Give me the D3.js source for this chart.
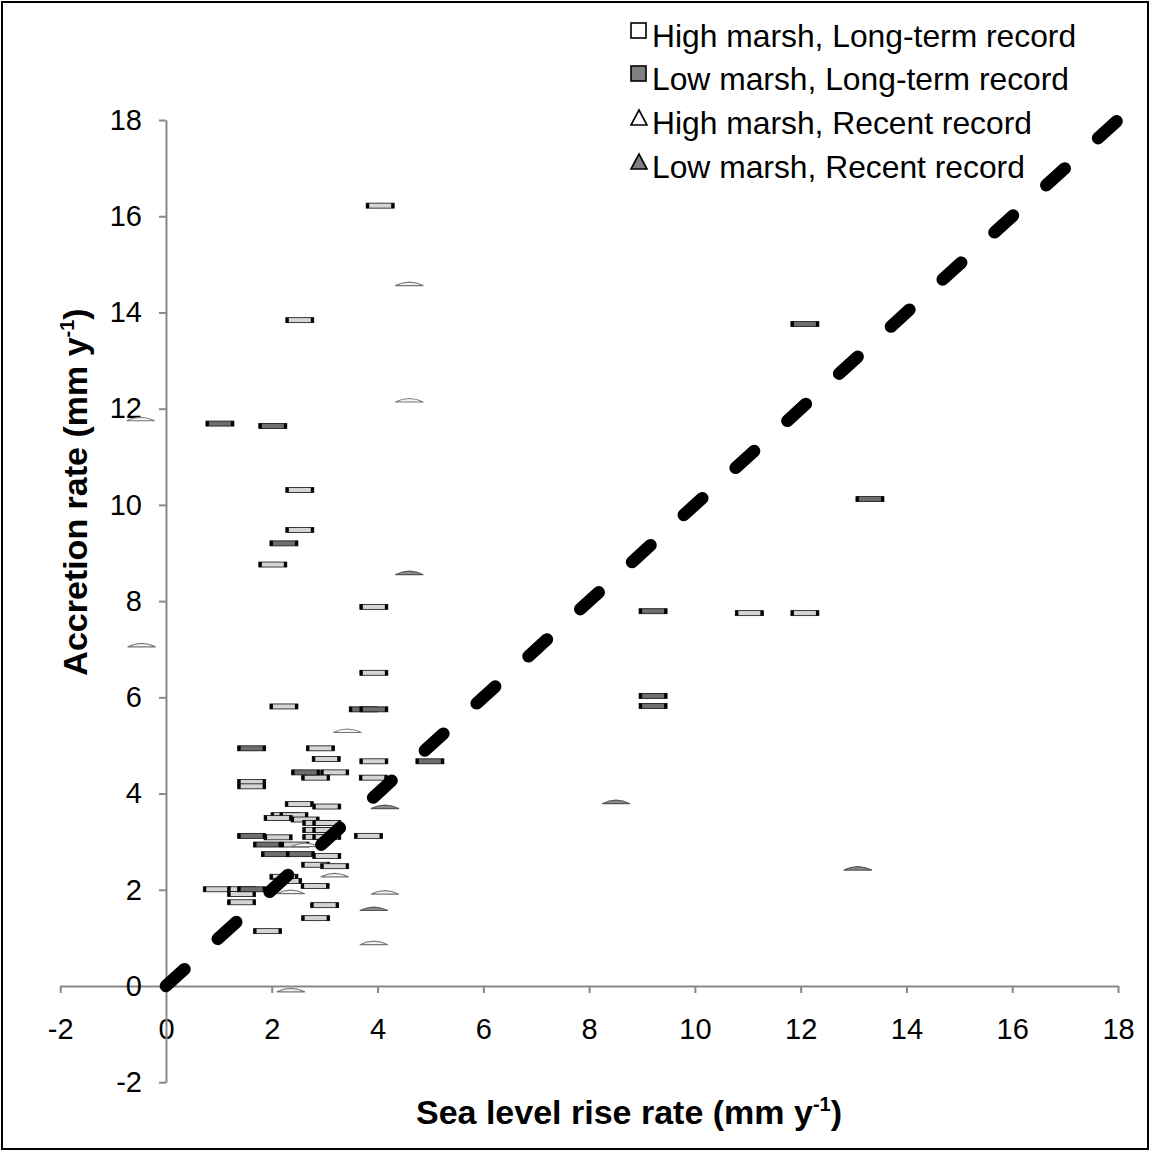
<!DOCTYPE html>
<html><head><meta charset="utf-8">
<script src="https://cdn.jsdelivr.net/npm/d3@7"></script>
<style>body{margin:0;background:#fff}svg{display:block}</style>
</head><body>
<svg id="chart" width="1151" height="1152"></svg>
<script>
// ---- data ----
const xTicks = [-2, 0, 2, 4, 6, 8, 10, 12, 14, 16, 18];
const yTicks = [-2, 0, 2, 4, 6, 8, 10, 12, 14, 16, 18];
const seriesNames = ["High marsh, Long-term record", "Low marsh, Long-term record", "High marsh, Recent record", "Low marsh, Recent record"];
const xTitle = "Sea level rise rate (mm y";
const yTitle = "Accretion rate (mm y";

// [sea level rise rate, accretion rate]
const highLong = [[4.05,16.22],[2.53,13.84],[2.53,10.31],[2.53,9.48],[2.02,8.76],[3.93,7.88],[3.93,6.51],[2.23,5.81],
  [2.92,4.94],[3.03,4.72],[3.93,4.67],[3.19,4.44],[2.83,4.33],[3.92,4.33],[1.62,4.24],[1.62,4.15],[2.52,3.78],[3.04,3.73],
  [2.25,3.55],[2.42,3.55],[2.12,3.49],[2.63,3.46],[2.85,3.39],[3.04,3.39],[2.85,3.24],[3.04,3.24],[2.12,3.09],[2.85,3.10],
  [3.04,3.10],[3.83,3.12],[2.44,2.94],[3.04,2.70],[2.83,2.52],[3.19,2.49],[2.23,2.27],[2.30,2.18],[2.82,2.08],[0.97,2.01],
  [1.43,2.01],[1.43,1.91],[1.43,1.74],[3.00,1.68],[2.83,1.41],[1.92,1.14],[11.03,7.75],[12.08,7.75]];
const lowLong = [[1.02,11.69],[2.02,11.64],[2.23,9.20],[3.73,5.75],[3.93,5.75],[1.62,4.94],[2.64,4.44],[4.99,4.67],
  [1.62,3.12],[1.92,2.94],[2.07,2.74],[2.54,2.74],[1.62,2.01],[9.21,7.79],[9.21,6.03],[9.21,5.82],[12.08,13.76],[13.31,10.12]];
const highRecent = [[4.60,14.60],[4.60,12.18],[-0.48,11.79],[-0.46,7.09],[3.43,5.31],[2.63,2.94],[3.19,2.31],[2.36,1.96],
  [4.14,1.95],[3.93,0.90],[2.36,-0.08]];
const lowRecent = [[4.60,8.59],[4.14,3.73],[3.93,1.61],[8.51,3.83],[13.08,2.45]];
const oneToOne = [[0,0],[18,18]];

// ---- drawing ----
const svg = d3.select("#chart");
const FONT = "'Liberation Sans', Arial, sans-serif";
const x = d3.scaleLinear().domain([-2, 18]).range([60.2, 1118]);
const y = d3.scaleLinear().domain([-2, 18]).range([1082.2, 120]);
const axisColor = "#888";

// border
svg.append("rect").attr("x", 2).attr("y", 2).attr("width", 1146).attr("height", 1147)
  .attr("fill", "none").attr("stroke", "#000").attr("stroke-width", 2);

// x axis at y=0
const gx = svg.append("g").attr("transform", `translate(0,${y(0)})`)
  .call(d3.axisBottom(x).tickValues(xTicks).tickSize(7).tickSizeOuter(0).tickPadding(25).tickFormat(d3.format("d")));
// y axis at x=0
const gy = svg.append("g").attr("transform", `translate(${x(0)},0)`)
  .call(d3.axisLeft(y).tickValues(yTicks).tickSize(7).tickSizeOuter(0).tickPadding(17).tickFormat(d3.format("d")));
[gx, gy].forEach(g => {
  g.select(".domain").attr("stroke", axisColor).attr("stroke-width", 2);
  g.selectAll(".tick line").attr("stroke", axisColor).attr("stroke-width", 2);
  g.selectAll(".tick text").attr("fill", "#000").style("font-family", FONT).style("font-size", "29px");
});
gx.selectAll(".tick text").text(d => d < 0 ? "-" + Math.abs(d) : d);
gy.selectAll(".tick text").text(d => d < 0 ? "-" + Math.abs(d) : d);

// markers
const W = 28, H = 5;
function drawSquares(data, fill) {
  const g = svg.append("g");
  const m = g.selectAll("g").data(data).join("g")
    .attr("transform", d => `translate(${x(d[0])},${y(d[1])})`);
  m.append("rect").attr("x", -W/2).attr("y", -H/2).attr("width", W).attr("height", H)
    .attr("fill", fill).attr("stroke", "#111").attr("stroke-width", 0.8);
  m.append("rect").attr("x", -W/2).attr("y", -H/2).attr("width", 3).attr("height", H).attr("fill", "#000");
  m.append("rect").attr("x", W/2 - 3).attr("y", -H/2).attr("width", 3).attr("height", H).attr("fill", "#000");
}
function drawTriangles(data, fill, stroke) {
  svg.append("g").selectAll("path").data(data).join("path")
    .attr("transform", d => `translate(${x(d[0])},${y(d[1])})`)
    .attr("d", `M${-W/2},2 Q0,-5 ${W/2},2 Z`)
    .attr("fill", fill).attr("stroke", stroke).attr("stroke-width", 1.2);
}
drawSquares(highLong, "#d4d4d4");
drawSquares(lowLong, "#6e6e6e");
drawTriangles(highRecent, "#f2f2f2", "#777");
drawTriangles(lowRecent, "#8a8a8a", "#555");

// 1:1 dashed line
svg.append("path").datum(oneToOne)
  .attr("d", d3.line().x(d => x(d[0])).y(d => y(d[1])))
  .attr("fill", "none").attr("stroke", "#000").attr("stroke-width", 12.5)
  .attr("stroke-linecap", "round").attr("stroke-dasharray", "25,45");

// axis titles
const xt = svg.append("text").attr("x", 629).attr("y", 1124).attr("text-anchor", "middle")
  .style("font-family", FONT).style("font-size", "34px").style("font-weight", "bold").text(xTitle);
xt.append("tspan").attr("dy", -13).style("font-size", "20px").text("-1");
xt.append("tspan").attr("dy", 13).text(")");

const yt = svg.append("text").attr("transform", "translate(87,492) rotate(-90)").attr("text-anchor", "middle")
  .style("font-family", FONT).style("font-size", "34px").style("font-weight", "bold").text(yTitle);
yt.append("tspan").attr("dy", -13).style("font-size", "20px").text("-1");
yt.append("tspan").attr("dy", 13).text(")");

// legend
const legY = [47, 90, 134, 178];
const lg = svg.append("g");
seriesNames.forEach((name, i) => {
  const cy = legY[i];
  if (i < 2) {
    lg.append("rect").attr("x", 631).attr("y", cy - 24).attr("width", 15).attr("height", 15)
      .attr("fill", i === 0 ? "#fff" : "#808080").attr("stroke", "#000").attr("stroke-width", 1.6);
  } else {
    lg.append("path").attr("d", `M631,${cy-9} L647,${cy-9} L639,${cy-24} Z`)
      .attr("fill", i === 2 ? "#fff" : "#808080").attr("stroke", "#000").attr("stroke-width", 1.6)
      .attr("stroke-linejoin", "miter");
  }
  lg.append("text").attr("x", 652).attr("y", cy).style("font-family", FONT).style("font-size", "31.8px")
    .attr("fill", "#000").text(name);
});
</script>
</body></html>
